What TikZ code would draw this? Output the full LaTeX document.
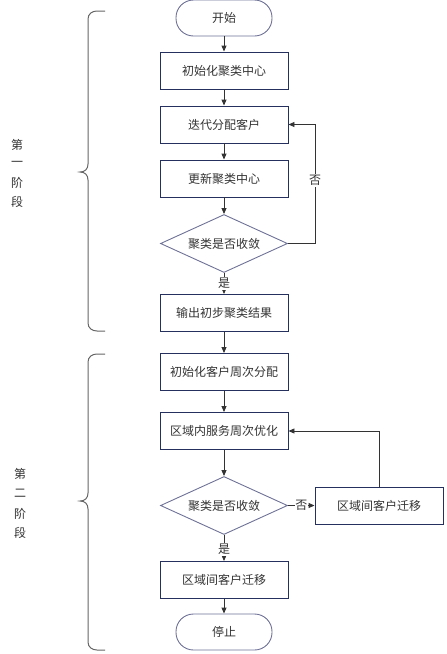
\documentclass[tikz,border=0pt]{standalone}
\usepackage{fontspec}
\newfontfamily\cjk{Noto Sans CJK SC}
\usetikzlibrary{shapes.geometric,arrows.meta}
\definecolor{boxc}{HTML}{26305E}
\definecolor{termc}{HTML}{6E7196}
\definecolor{linec}{HTML}{333333}
\definecolor{bracec}{HTML}{666666}
\definecolor{txtc}{HTML}{333333}
\tikzset{
  every node/.style={font=\cjk\fontsize{12}{14}\selectfont, text=txtc},
  boxn/.style={draw=boxc, line width=0.9pt, minimum width=128pt, minimum height=37pt, inner sep=0pt},
  termn/.style={draw=termc, line width=0.9pt, rounded corners=17.5pt, minimum width=96pt, minimum height=36pt, inner sep=0pt},
  decn/.style={draw=termc, line width=0.9pt, shape=diamond, aspect=2.2, minimum width=127pt, minimum height=58pt, inner sep=0pt},
  arr/.style={draw=linec, line width=0.9pt, -{Triangle[length=6pt,width=5pt]}},
  lbl/.style={fill=white, inner sep=1pt},
  brace/.style={draw=bracec, line width=1pt},
  side/.style={inner sep=0pt}
}
\begin{document}
\begin{tikzpicture}[x=1pt,y=-1pt]
\useasboundingbox (0,0) rectangle (447,654);
% nodes
\node[termn] (start) at (224,18) {开始};
\node[boxn] (b1) at (224,70.5) {初始化聚类中心};
\node[boxn] (b2) at (224,124.5) {迭代分配客户};
\node[boxn] (b3) at (224,178.5) {更新聚类中心};
\node[decn] (d1) at (224,243.5) {聚类是否收敛};
\node[boxn] (b4) at (224,313) {输出初步聚类结果};
\node[boxn] (b5) at (224,372) {初始化客户周次分配};
\node[boxn] (b6) at (224,431) {区域内服务周次优化};
\node[decn] (d2) at (224,505.5) {聚类是否收敛};
\node[boxn] (b7) at (379,505.5) {区域间客户迁移};
\node[boxn] (b8) at (224,580) {区域间客户迁移};
\node[termn] (stop) at (224,632) {停止};
\coordinate (r1) at (315,243.5);
% connectors
\draw[arr] (start) -- (b1);
\draw[arr] (b1) -- (b2);
\draw[arr] (b2) -- (b3);
\draw[arr] (b3) -- (d1);
\draw[arr] (d1) -- node[lbl, pos=0.5] {是} (b4);
\draw[arr] (d1.east) -- (r1) -- node[lbl, pos=0.53] {否} (r1 |- b2.east) -- (b2.east);
\draw[arr] (b4) -- (b5);
\draw[arr] (b5) -- (b6);
\draw[arr] (b6) -- (d2);
\draw[arr] (d2.east) -- node[lbl, pos=0.5, inner sep=0.5pt] {否} (b7.west);
\draw[arr] (d2) -- node[lbl, pos=0.55] {是} (b8);
\draw[arr] (b7.north) |- (b6.east);
\draw[arr] (b8) -- (stop);
% braces
\draw[brace] (105,11) -- (97,11) .. controls (92,11) and (88,14) .. (88,19) -- (88,164) .. controls (88,169) and (85,172) .. (80,172) .. controls (85,172) and (88,175) .. (88,180) -- (88,323) .. controls (88,328) and (92,331) .. (97,331) -- (105,331);
\draw[brace] (105,354) -- (97,354) .. controls (92,354) and (88,357) .. (88,362) -- (88,493) .. controls (88,498) and (85,501) .. (80,501) .. controls (85,501) and (88,504) .. (88,509) -- (88,642) .. controls (88,647) and (92,650) .. (97,650) -- (105,650);
% side labels
\node[side] (s1a) at (17,145) {第};
\node[side] (s1b) at (17,164) {一};
\node[side] (s1c) at (17,183) {阶};
\node[side] (s1d) at (17,202) {段};
\node[side] (s2a) at (20,474) {第};
\node[side] (s2b) at (20,493) {二};
\node[side] (s2c) at (20,514) {阶};
\node[side] (s2d) at (20,533) {段};
\end{tikzpicture}
\end{document}
